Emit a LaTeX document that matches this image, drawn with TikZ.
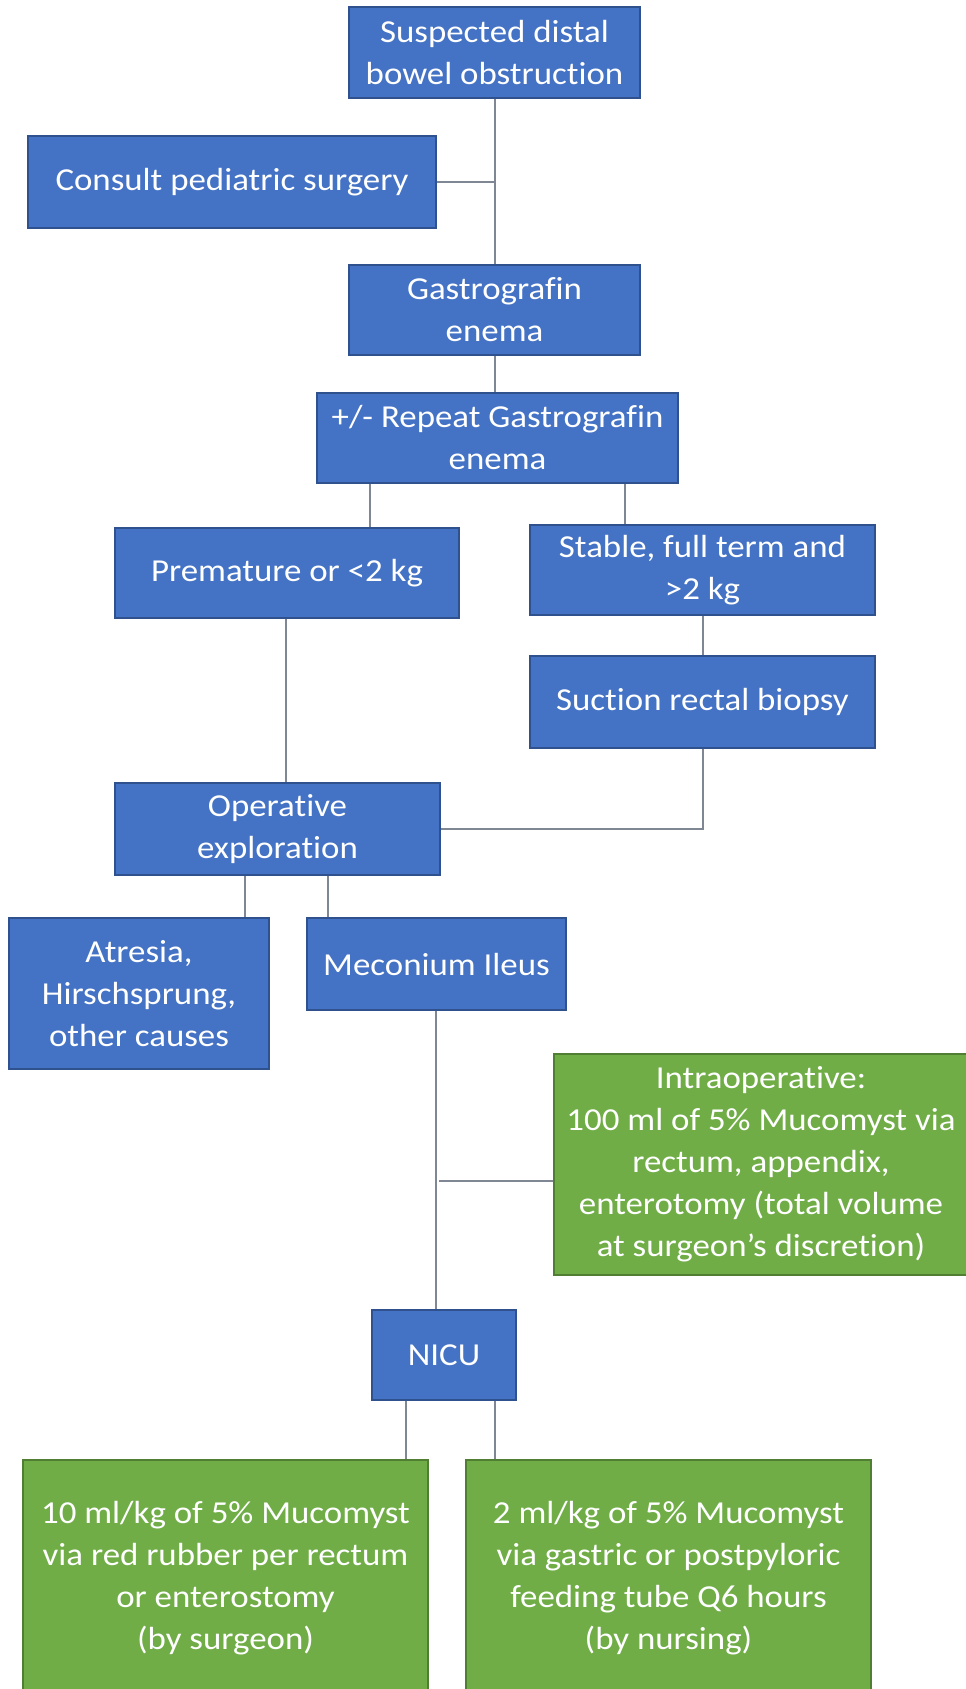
\documentclass[tikz,border=0pt]{standalone}
\usepackage{fontspec}
\setmainfont{Carlito}[Ligatures=NoCommon, FakeStretch=1.09]
\definecolor{bfill}{HTML}{4472C4}
\definecolor{bdraw}{HTML}{2F528F}
\definecolor{gfill}{HTML}{70AD47}
\definecolor{gdraw}{HTML}{507E32}
\definecolor{connc}{HTML}{7F8794}
\begin{document}
\begin{tikzpicture}[x=1pt,y=-1pt,
  box/.style={rectangle, line width=1.2pt, text=white, align=center,
    font=\fontsize{32}{42}\selectfont, inner sep=0pt},
  bbox/.style={box, fill=bfill, draw=bdraw},
  gbox/.style={box, fill=gfill, draw=gdraw},
  conn/.style={draw=connc, line width=1.4pt}]
\useasboundingbox (0,0) rectangle (966,1689);
\clip (0,0) rectangle (966,1689);
\fill[white] (0,0) rectangle (966,1689);

\node[bbox, minimum width=291pt, minimum height=91pt] (sus) at (494.5,52.5) {Suspected distal\\bowel obstruction};
\node[bbox, minimum width=408pt, minimum height=92pt] (con) at (232,182) {Consult pediatric surgery};
\node[bbox, minimum width=291pt, minimum height=90pt] (gas) at (494.5,310) {Gastrografin\\enema};
\node[bbox, minimum width=361pt, minimum height=90pt] (rep) at (497.5,438) {+/- Repeat Gastrografin\\enema};
\node[bbox, minimum width=344pt, minimum height=90pt] (pre) at (287,573) {Premature or <2 kg};
\node[bbox, minimum width=345pt, minimum height=90pt] (sta) at (702.5,570) {Stable, full term and\\>2 kg};
\node[bbox, minimum width=345pt, minimum height=92pt] (suc) at (702.5,702) {Suction rectal biopsy};
\node[bbox, minimum width=325pt, minimum height=92pt] (op) at (277.5,829) {Operative\\exploration};
\node[bbox, minimum width=260pt, minimum height=151pt] (atr) at (139,993.5) {Atresia,\\Hirschsprung,\\other causes};
\node[bbox, minimum width=259pt, minimum height=92pt] (mec) at (436.5,964) {Meconium Ileus};
\node[gbox, minimum width=414pt, minimum height=221pt] (intra) at (761,1164.5) {Intraoperative:\\100 ml of 5\% Mucomyst via\\rectum, appendix,\\enterotomy (total volume\\at surgeon’s discretion)};
\node[bbox, minimum width=144pt, minimum height=90pt] (nicu) at (444,1355) {NICU};
\node[gbox, minimum width=405pt, minimum height=236pt] (gl) at (225.5,1578) {10 ml/kg of 5\% Mucomyst\\via red rubber per rectum\\or enterostomy\\(by surgeon)};
\node[gbox, minimum width=405pt, minimum height=236pt] (gr) at (668.5,1578) {2 ml/kg of 5\% Mucomyst\\via gastric or postpyloric\\feeding tube Q6 hours\\(by nursing)};

\coordinate (j1) at (495,182);
\coordinate (j2) at (703,829);
\coordinate (j3) at (436,1181);

\draw[conn] (sus.south -| j1) -- (gas.north -| j1);
\draw[conn] (con.east) -- (j1);
\draw[conn] (gas.south -| j1) -- (rep.north -| j1);
\draw[conn] (rep.south -| 370,0) -- (pre.north -| 370,0);
\draw[conn] (rep.south -| 625,0) -- (sta.north -| 625,0);
\draw[conn] (sta.south -| j2) -- (suc.north -| j2);
\draw[conn] (pre.south -| 286,0) -- (op.north -| 286,0);
\draw[conn] (suc.south -| j2) -- (j2) -- (op.east);
\draw[conn] (op.south -| 245,0) -- (atr.north -| 245,0);
\draw[conn] (op.south -| 328,0) -- (mec.north -| 328,0);
\draw[conn] (mec.south -| j3) -- (nicu.north -| j3);
\draw[conn] (intra.west |- j3) -- ([xshift=3pt]j3);
\draw[conn] (nicu.south -| 406,0) -- (gl.north -| 406,0);
\draw[conn] (nicu.south -| 495,0) -- (gr.north -| 495,0);
\end{tikzpicture}
\end{document}
